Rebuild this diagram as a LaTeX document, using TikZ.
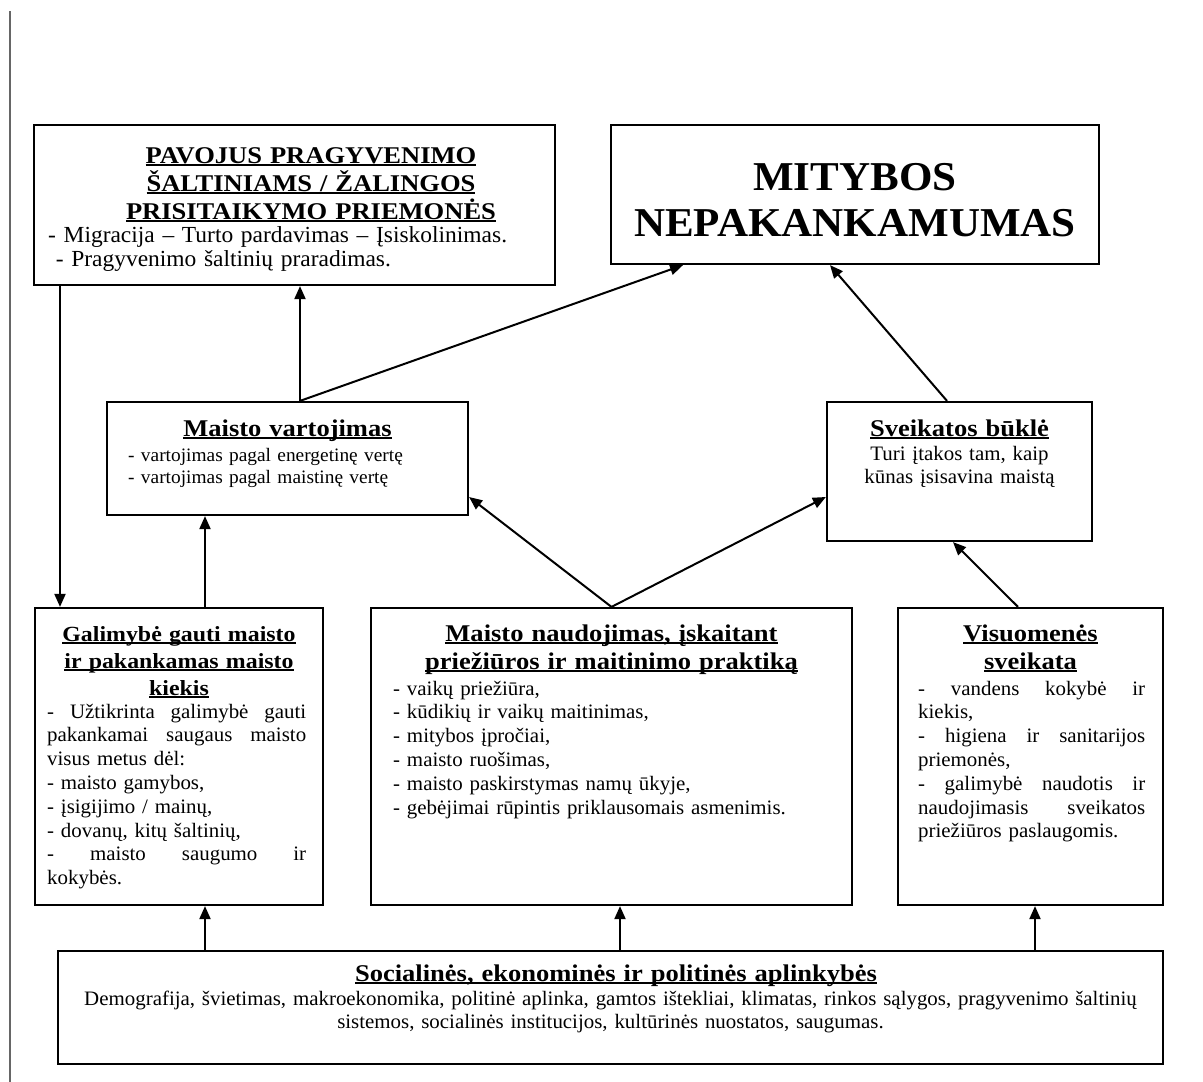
\documentclass[tikz,border=0pt]{standalone}
\usepackage{fontspec}
\setmainfont{Liberation Serif}[FakeStretch=1.02]
\newfontfamily\ttlfam{Liberation Serif}[FakeStretch=1.105]
\newfontfamily\bigfam{Liberation Serif}[FakeStretch=1.05]
\usetikzlibrary{arrows.meta}
\newsavebox\ulbox
\newcommand\ulx[1]{\leavevmode\sbox\ulbox{#1}\rlap{\rule[-3.2pt]{\wd\ulbox}{1.8pt}}\usebox\ulbox}
\newcommand\jl[1]{\leavevmode\hbox to \hsize{\spaceskip=0.25em plus 1fil\relax #1}}
\begin{document}
\begin{tikzpicture}[x=1pt,y=-1pt,
  box/.style={draw=black, line width=2.2pt, rectangle, inner sep=0pt},
  arr/.style={line width=2pt, -{Triangle[length=13pt,width=11pt]}},
  ttl/.style={font=\ttlfam\fontsize{24}{28}\selectfont\bfseries, align=center, inner sep=0pt, anchor=base},
  big/.style={font=\bigfam\fontsize{41}{46}\selectfont\bfseries, align=center, inner sep=0pt, anchor=base},
  bdy/.style={font=\fontsize{20.5}{23.8}\selectfont, inner sep=0pt, anchor=base west, align=left},
  bdc/.style={font=\fontsize{20.5}{23.3}\selectfont, inner sep=0pt, anchor=base, align=center},
]
\useasboundingbox[fill=white] (0,0) rectangle (1203,1082);
\draw[line width=1.3pt, draw=black!60] (10,11) -- (10,1082);

% boxes
\node[box, minimum width=521pt, minimum height=160pt] (pav) at (294.5,205) {};
\node[box, minimum width=488pt, minimum height=139pt] (mit) at (855,194.5) {};
\node[box, minimum width=361pt, minimum height=113pt] (var) at (287.5,458.5) {};
\node[box, minimum width=265pt, minimum height=139pt] (sve) at (959.5,471.5) {};
\node[box, minimum width=288pt, minimum height=297pt] (gal) at (179,756.5) {};
\node[box, minimum width=481pt, minimum height=297pt] (nau) at (611.5,756.5) {};
\node[box, minimum width=265pt, minimum height=297pt] (vis) at (1030.5,756.5) {};
\node[box, minimum width=1105pt, minimum height=113pt] (soc) at (610.5,1007.5) {};

% texts
\node[ttl, text width=510pt] (pavT) at (311,163) {\ulx{PAVOJUS PRAGYVENIMO}\\\ulx{ŠALTINIAMS / ŽALINGOS}\\\ulx{PRISITAIKYMO PRIEMONĖS}};
\node[bdy, text width=505pt, font=\fontsize{23}{24.5}\selectfont] (pavB) at (48,242) {- Migracija – Turto pardavimas – Įsiskolinimas.\\\ - Pragyvenimo šaltinių praradimas.};

\node[big, text width=480pt] (mitT) at (855,190) {MITYBOS\\NEPAKANKAMUMAS};

\node[ttl, text width=350pt] (varT) at (287.5,436) {\ulx{Maisto vartojimas}};
\node[bdy, text width=330pt, font=\fontsize{19}{22.5}\selectfont] (varB) at (128,461) {- vartojimas pagal energetinę vertę\\- vartojimas pagal maistinę vertę};

\node[ttl, text width=255pt] (sveT) at (959.5,436) {\ulx{Sveikatos būklė}};
\node[bdc, text width=255pt] (sveB) at (959.5,460) {Turi įtakos tam, kaip\\kūnas įsisavina maistą};

\node[ttl, text width=280pt, font=\ttlfam\fontsize{21.6}{27}\selectfont\bfseries] (galT) at (179,641) {\ulx{Galimybė gauti maisto}\\\ulx{ir pakankamas maisto}\\\ulx{kiekis}};
\node[bdy, text width=259pt] (galB) at (47,718) {\jl{- Užtikrinta galimybė gauti}\\\jl{pakankamai saugaus maisto}\\visus metus dėl:\\- maisto gamybos,\\- įsigijimo / mainų,\\- dovanų, kitų šaltinių,\\\jl{- maisto saugumo ir}\\kokybės.};

\node[ttl, text width=470pt] (nauT) at (611.5,641) {\ulx{Maisto naudojimas, įskaitant}\\\ulx{priežiūros ir maitinimo praktiką}};
\node[bdy, text width=450pt] (nauB) at (393,695) {- vaikų priežiūra,\\- kūdikių ir vaikų maitinimas,\\- mitybos įpročiai,\\- maisto ruošimas,\\- maisto paskirstymas namų ūkyje,\\- gebėjimai rūpintis priklausomais asmenimis.};

\node[ttl, text width=255pt] (visT) at (1030.5,641) {\ulx{Visuomenės}\\\ulx{sveikata}};
\node[bdy, text width=227pt] (visB) at (918,695) {\jl{- vandens kokybė ir}\\kiekis,\\\jl{- higiena ir sanitarijos}\\priemonės,\\\jl{- galimybė naudotis ir}\\\jl{naudojimasis sveikatos}\\priežiūros paslaugomis.};

\node[ttl, text width=1090pt] (socT) at (616,981) {\ulx{Socialinės, ekonominės ir politinės aplinkybės}};
\node[bdc, text width=1100pt] (socB) at (610.5,1005) {Demografija, švietimas, makroekonomika, politinė aplinka, gamtos ištekliai, klimatas, rinkos sąlygos, pragyvenimo šaltinių\\sistemos, socialinės institucijos, kultūrinės nuostatos, saugumas.};

% connectors
\draw[arr] (pav.south -| 60,0) -- (gal.north -| 60,0);
\draw[arr] (var.north -| 300,0) -- (pav.south -| 300,0);
\draw[arr] (var.north -| 300,0) -- (mit.south -| 683,0);
\draw[arr] (sve.north -| 947,0) -- (mit.south -| 830,0);
\draw[arr] (gal.north -| 205,0) -- (var.south -| 205,0);
\draw[arr] (nau.north) -- (var.east |- 0,497);
\draw[arr] (nau.north) -- (sve.west |- 0,497);
\draw[arr] (vis.north -| 1018,0) -- (sve.south -| 953,0);
\draw[arr] (soc.north -| 205,0) -- (gal.south -| 205,0);
\draw[arr] (soc.north -| 620,0) -- (nau.south -| 620,0);
\draw[arr] (soc.north -| 1035,0) -- (vis.south -| 1035,0);
\end{tikzpicture}
\end{document}
